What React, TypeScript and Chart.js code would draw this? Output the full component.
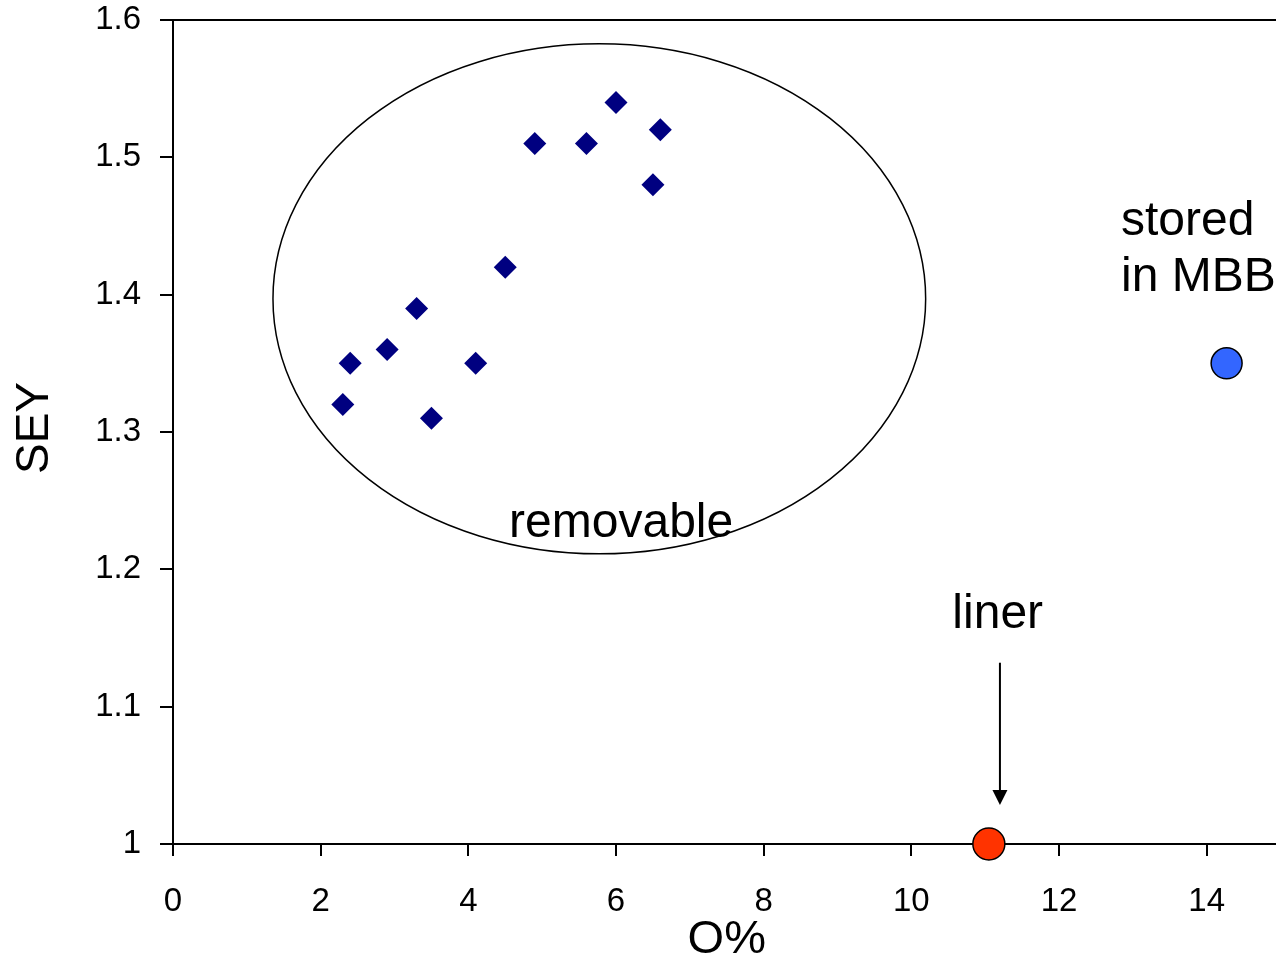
import React, { useEffect, useRef } from "react";
import { Chart, registerables } from "chart.js";

Chart.register(...registerables);

const FONT = '"Liberation Sans", Arial, Helvetica, sans-serif';

// tick values
const xTicks = [0, 2, 4, 6, 8, 10, 12, 14];
const yTicks = [1, 1.1, 1.2, 1.3, 1.4, 1.5, 1.6];

// series: removable samples (navy diamonds)
const removableX = [2.3, 2.4, 2.9, 3.3, 3.5, 4.1, 4.5, 4.9, 5.6, 6.0, 6.5, 6.6];
const removableY = [1.32, 1.35, 1.36, 1.39, 1.31, 1.35, 1.42, 1.51, 1.51, 1.54, 1.48, 1.52];

// series: stored in MBB (blue circle)
const mbbX = [14.27];
const mbbY = [1.35];

// series: liner (red circle)
const linerX = [11.05];
const linerY = [1.0];

// annotation texts and their anchor values (data units)
const annotationTexts = ["removable", "liner", "stored", "in MBB"];
const annotationX = [6.07, 11.17, 12.84, 12.84];
const annotationY = [1.2236, 1.157, 1.4435, 1.403];
const annotationAlign = ["center", "center", "left", "left"];

// ellipse around the removable group (data units)
const ellipseCenter = [5.774, 1.397];
const ellipseRadii = [4.42, 0.1857];

// arrow pointing at liner (data units)
const arrowX = 11.2;
const arrowFromY = 1.132;
const arrowToY = 1.0284;

const xTitle = "O%";
const yTitle = "SEY";

const toPoints = (xs: number[], ys: number[]) => xs.map((x, i) => ({ x, y: ys[i] }));

const decorPlugin = {
  id: "decor",
  beforeDatasetsDraw(chart: any) {
    const { ctx, chartArea, scales } = chart;
    const xs = scales.x;
    const ys = scales.y;
    ctx.save();
    // top frame line
    ctx.strokeStyle = "#000";
    ctx.lineWidth = 2;
    ctx.beginPath();
    ctx.moveTo(chartArea.left, chartArea.top);
    ctx.lineTo(chartArea.right + 5, chartArea.top);
    ctx.stroke();

    // ellipse
    const cx = xs.getPixelForValue(ellipseCenter[0]);
    const cy = ys.getPixelForValue(ellipseCenter[1]);
    const rx = xs.getPixelForValue(ellipseCenter[0] + ellipseRadii[0]) - cx;
    const ry = cy - ys.getPixelForValue(ellipseCenter[1] + ellipseRadii[1]);
    ctx.lineWidth = 1.5;
    ctx.beginPath();
    ctx.ellipse(cx, cy, rx, ry, 0, 0, Math.PI * 2);
    ctx.stroke();

    // arrow
    const ax = xs.getPixelForValue(arrowX);
    const ay1 = ys.getPixelForValue(arrowFromY);
    const ay2 = ys.getPixelForValue(arrowToY);
    ctx.lineWidth = 2;
    ctx.beginPath();
    ctx.moveTo(ax, ay1);
    ctx.lineTo(ax, ay2 - 12);
    ctx.stroke();
    ctx.fillStyle = "#000";
    ctx.beginPath();
    ctx.moveTo(ax - 7.5, ay2 - 15);
    ctx.lineTo(ax + 7.5, ay2 - 15);
    ctx.lineTo(ax, ay2);
    ctx.closePath();
    ctx.fill();

    // annotation texts
    ctx.font = `48px ${FONT}`;
    ctx.textBaseline = "alphabetic";
    annotationTexts.forEach((t, i) => {
      ctx.textAlign = annotationAlign[i];
      ctx.fillText(t, xs.getPixelForValue(annotationX[i]), ys.getPixelForValue(annotationY[i]));
    });

    // axis titles
    ctx.font = `47px ${FONT}`;
    ctx.textAlign = "center";
    ctx.fillText(xTitle, (chartArea.left + chartArea.right) / 2, 953);
    ctx.font = `46px ${FONT}`;
    ctx.translate(48, (chartArea.top + chartArea.bottom) / 2 - 4);
    ctx.rotate(-Math.PI / 2);
    ctx.fillText(yTitle, 0, 0);
    ctx.restore();
  },
};

const zeroPad = (s: any) => {
  s.paddingLeft = 0;
  s.paddingRight = 0;
  s.paddingTop = 0;
  s.paddingBottom = 0;
};

export default function App() {
  const ref = useRef<HTMLCanvasElement | null>(null);
  useEffect(() => {
    if (!ref.current) return;
    const chart = new Chart(ref.current, {
      type: "scatter",
      data: {
        datasets: [
          {
            label: "removable",
            data: toPoints(removableX, removableY),
            pointStyle: "rectRot",
            pointRadius: 11.5,
            backgroundColor: "#000080",
            borderColor: "#000080",
            borderWidth: 0,
            clip: false,
          },
          {
            label: "stored in MBB",
            data: toPoints(mbbX, mbbY),
            pointStyle: "circle",
            pointRadius: 15.5,
            backgroundColor: "#3366FF",
            borderColor: "#000",
            borderWidth: 1.5,
            clip: false,
          },
          {
            label: "liner",
            data: toPoints(linerX, linerY),
            pointStyle: "circle",
            pointRadius: 16,
            backgroundColor: "#FF3300",
            borderColor: "#000",
            borderWidth: 1.5,
            clip: false,
          },
        ],
      },
      options: {
        animation: false,
        responsive: false,
        devicePixelRatio: 1,
        layout: { padding: { top: 20, right: 1, left: 0, bottom: 0 } },
        plugins: {
          legend: { display: false },
          tooltip: { enabled: false },
        },
        scales: {
          x: {
            type: "linear",
            min: 0,
            max: 15,
            afterBuildTicks: (s: any) => {
              s.ticks = xTicks.map((v) => ({ value: v }));
            },
            afterFit: (s: any) => {
              s.height = 114;
              zeroPad(s);
            },
            grid: {
              drawOnChartArea: false,
              drawTicks: true,
              tickLength: 12,
              tickWidth: 2,
              tickColor: "#000",
              color: "#000",
              lineWidth: 2,
            },
            border: { display: true, color: "#000", width: 2 },
            ticks: {
              color: "#000",
              font: { family: FONT, size: 33 },
              padding: 26,
              maxRotation: 0,
              autoSkip: false,
              callback: (v: any) => String(v),
            },
          },
          y: {
            type: "linear",
            min: 1,
            max: 1.6,
            afterBuildTicks: (s: any) => {
              s.ticks = yTicks.map((v) => ({ value: v }));
            },
            afterFit: (s: any) => {
              s.width = 173;
              zeroPad(s);
            },
            grid: {
              drawOnChartArea: false,
              drawTicks: true,
              tickLength: 13,
              tickWidth: 2,
              tickColor: "#000",
              color: "#000",
              lineWidth: 2,
            },
            border: { display: true, color: "#000", width: 2 },
            ticks: {
              color: "#000",
              font: { family: FONT, size: 33 },
              padding: 19,
              autoSkip: false,
              callback: (v: any) => String(Number(Number(v).toFixed(1))),
            },
          },
        },
      },
      plugins: [decorPlugin],
    } as any);
    return () => chart.destroy();
  }, []);

  return (
    <div
      style={{
        position: "fixed",
        left: 0,
        top: 0,
        width: 1276,
        height: 958,
        overflow: "hidden",
        background: "#fff",
      }}
    >
      <canvas ref={ref} width={1298} height={958} style={{ width: 1298, height: 958, display: "block" }} />
    </div>
  );
}
